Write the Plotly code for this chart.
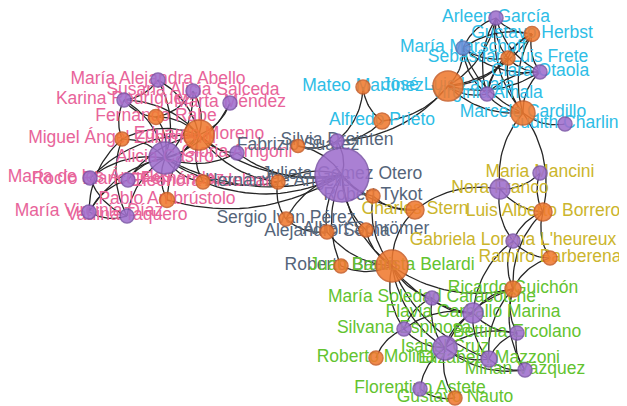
import plotly.graph_objects as go
import math

# ---- data ----
node_ids = ["abello","salceda","karina","mendez","rabe","zubimendi","moreno","castro","arrigoni",
            "mariade","rocio","pinkorange","ambrustolo","diaz","taquero",
            "dreinten","suarez","gomez","hernan","tykot","perez","serna","schromer","roberto",
            "garcia","herbst","marschoff","frete","otaola","martinez","lanata","amala","prieto","cardillo","charlin",
            "mancini","franco","stern","borrero","lheureux","barberena",
            "belardi","caracotche","guichon","carballo","espinosa","ercolano","cruz","mazzoni","molina","vazquez","astete","nauto"]
node_labels = ["María Alejandra Abello","Susana Alicia Salceda","Karina Rodríguez","Marta Méndez","Fernando Rabe",
               "Miguel Ángel Zubimendi","Eduardo Moreno","Alicia Castro","Gloria Arrigoni",
               "María de los Ángeles","Rocío Blanco Fernández","Eleonora Ardelean","Pablo Ambrústolo","María Virginia Díaz","Vanina Taquero",
               "Silvia Dreinten","Fabrizio Suárez","Julieta Gómez Otero","Hernán De Angelis","Robert Tykot","Sergio Iván Pérez",
               "Alejandro Serna","Albert Schrömer","Roberto Bravo",
               "Arleen García","Gustavo Herbst","María Marschoff","Sebastián Luis Frete","Clara Otaola","Mateo Martínez",
               "José Luis Lanata","Virginia Amala","Alfredo Prieto","Marcelo Cardillo","Judith Charlin",
               "Maria Mancini","Nora Franco","Charles Stern","Luis Alberto Borrero","Gabriela Lorena L'heureux","Ramiro Barberena",
               "Juan Bautista Belardi","María Soledad Caracotche","Ricardo Guichón","Flavia Carballo Marina","Silvana Espinosa",
               "Bettina Ercolano","Isabel Cruz","Elizabeth Mazzoni","Roberto Molina","Mirian Vázquez","Florentino Astete","Gustavo Nauto"]
node_group = (["pink"]*15 + ["slate"]*9 + ["cyan"]*11 + ["yellow"]*6 + ["green"]*12)
node_kind = ["P","P","P","P","O","O","O","P","P","P","P","O","O","P","P",
             "P","O","P","O","O","O","O","O","O",
             "P","O","B","O","P","O","O","P","O","O","P",
             "P","P","O","O","P","O",
             "O","P","O","P","P","P","P","P","O","P","P","O"]
node_x = [158,193,124,230,156,122,199,165,237,90,128,203,167,89,127,
          337,298,342,278,373,286,327,366,341,
          496,532,463,508,540,363,448,487,382,523,565,
          540,500,415,543,513,550,
          392,432,513,473,404,517,445,489,376,525,420,455]
node_y = [80,91,100,103,117,139,135,158,153,178,180,182,200,212,216,
          141,146,175,182,196,219,232,230,266,
          18,34,48,58,72,87,86,94,121,113,124,
          173,189,210,212,241,258,
          266,298,289,313,329,333,348,359,358,370,389,398]
node_size = [14,14,14,14,15,14,30,32,14,14,14,14,15,14,14,
             14,13,54,14,14,14,14,14,14,
             14,15,14,14,14,14,30,14,16,24,14,
             14,20,18,18,14,14,
             32,14,16,20,14,14,24,16,14,14,14,14]

edges = [
 ("castro","abello"),("castro","salceda"),("castro","karina"),("castro","mendez"),("castro","rabe"),
 ("castro","zubimendi"),("castro","moreno"),("castro","arrigoni"),("castro","mariade"),("castro","rocio"),
 ("castro","pinkorange"),("castro","ambrustolo"),("castro","diaz"),("castro","taquero"),
 ("moreno","abello"),("moreno","salceda"),("moreno","karina"),("moreno","mendez"),("moreno","rabe"),
 ("moreno","zubimendi"),("moreno","arrigoni"),("moreno","rocio"),("moreno","ambrustolo"),("moreno","pinkorange"),
 ("moreno","mariade"),("karina","abello"),("karina","rabe"),("karina","zubimendi"),("zubimendi","diaz"),
 ("zubimendi","taquero"),("diaz","taquero"),("mariade","taquero"),("rocio","diaz"),("rabe","salceda"),
 ("castro","gomez"),("moreno","gomez"),("pinkorange","gomez"),("ambrustolo","gomez"),("arrigoni","gomez"),
 ("moreno","hernan"),("castro","hernan"),
 ("gomez","dreinten"),("gomez","suarez"),("gomez","hernan"),("gomez","tykot"),("gomez","perez"),
 ("gomez","serna"),("gomez","schromer"),("gomez","roberto"),("gomez","stern"),("gomez","belardi"),
 ("hernan","perez"),("perez","serna"),("serna","belardi"),("schromer","belardi"),("roberto","belardi"),
 ("tykot","stern"),("tykot","belardi"),("dreinten","martinez"),("dreinten","prieto"),("dreinten","lanata"),
 ("suarez","dreinten"),
 ("martinez","prieto"),("prieto","lanata"),("lanata","garcia"),("lanata","herbst"),("lanata","marschoff"),
 ("lanata","frete"),("lanata","otaola"),("lanata","amala"),("lanata","cardillo"),("garcia","herbst"),
 ("garcia","marschoff"),("garcia","frete"),("garcia","otaola"),("garcia","amala"),("garcia","cardillo"),
 ("herbst","marschoff"),("herbst","frete"),("herbst","otaola"),("herbst","cardillo"),("herbst","amala"),
 ("marschoff","frete"),("marschoff","otaola"),("marschoff","amala"),("frete","otaola"),("frete","amala"),
 ("frete","cardillo"),("otaola","amala"),("otaola","cardillo"),("amala","cardillo"),("cardillo","charlin"),
 ("marschoff","cardillo"),
 ("cardillo","franco"),("borrero","cardillo"),
 ("franco","mancini"),("franco","borrero"),("franco","stern"),("franco","lheureux"),("mancini","borrero"),
 ("borrero","lheureux"),("borrero","barberena"),("lheureux","barberena"),("stern","belardi"),
 ("lheureux","guichon"),("borrero","guichon"),("barberena","guichon"),("lheureux","carballo"),
 ("belardi","caracotche"),("belardi","carballo"),("belardi","espinosa"),("belardi","cruz"),("belardi","guichon"),
 ("belardi","mazzoni"),("caracotche","carballo"),("caracotche","cruz"),("caracotche","espinosa"),
 ("guichon","carballo"),("guichon","ercolano"),("guichon","cruz"),("guichon","mazzoni"),("guichon","vazquez"),
 ("carballo","cruz"),("carballo","ercolano"),("carballo","mazzoni"),("carballo","espinosa"),("espinosa","cruz"),
 ("espinosa","molina"),("ercolano","cruz"),("ercolano","mazzoni"),("ercolano","vazquez"),("cruz","mazzoni"),
 ("cruz","vazquez"),("cruz","astete"),("cruz","nauto"),("astete","nauto"),("mazzoni","vazquez"),
]

group_colors = {"pink":"#e8649a","slate":"#55657a","cyan":"#2ebde6","yellow":"#cbb52c","green":"#63c32f"}
kind_fill = {"P":"#9f6fcd","O":"#f07a30","B":"#6a8fd8"}
kind_line = {"P":"#7d57a8","O":"#c9602a","B":"#5a78b8"}

# ---- build ----
pos = {n:(x,y) for n,x,y in zip(node_ids,node_x,node_y)}
ex, ey = [], []
for a,b in edges:
    x0,y0 = pos[a]; x1,y1 = pos[b]
    dx,dy = x1-x0, y1-y0
    cx = (x0+x1)/2 - dy*0.22
    cy = (y0+y1)/2 + dx*0.22
    for i in range(21):
        t = i/20
        ex.append((1-t)**2*x0 + 2*(1-t)*t*cx + t**2*x1)
        ey.append((1-t)**2*y0 + 2*(1-t)*t*cy + t**2*y1)
    ex.append(None); ey.append(None)

fig = go.Figure()
fig.add_trace(go.Scatter(x=ex, y=ey, mode="lines", line=dict(color="#262626", width=1.3),
                         hoverinfo="skip", cliponaxis=False))
for g,c in group_colors.items():
    idx = [i for i,gg in enumerate(node_group) if gg==g]
    fig.add_trace(go.Scatter(x=[node_x[i] for i in idx], y=[node_y[i] for i in idx],
                             text=[node_labels[i] for i in idx], mode="text",
                             textposition="middle center", cliponaxis=False,
                             textfont=dict(family="Arial, Liberation Sans, sans-serif", size=17.5, color=c),
                             hoverinfo="skip"))
fig.add_trace(go.Scatter(x=node_x, y=node_y, mode="markers",
                         marker=dict(size=node_size, color=[kind_fill[k] for k in node_kind],
                                     line=dict(color=[kind_line[k] for k in node_kind], width=1.5), opacity=0.88),
                         hoverinfo="skip", cliponaxis=False))

# page body has an 8px margin, so the plot area starts at page pixel 8
fig.update_layout(width=619, height=398, margin=dict(l=0,r=0,t=0,b=0),
                  paper_bgcolor="white", plot_bgcolor="white", showlegend=False,
                  xaxis=dict(range=[8,627], visible=False, fixedrange=True),
                  yaxis=dict(range=[406,8], visible=False, fixedrange=True))
fig.write_html("out.html", config={"displayModeBar": False})
